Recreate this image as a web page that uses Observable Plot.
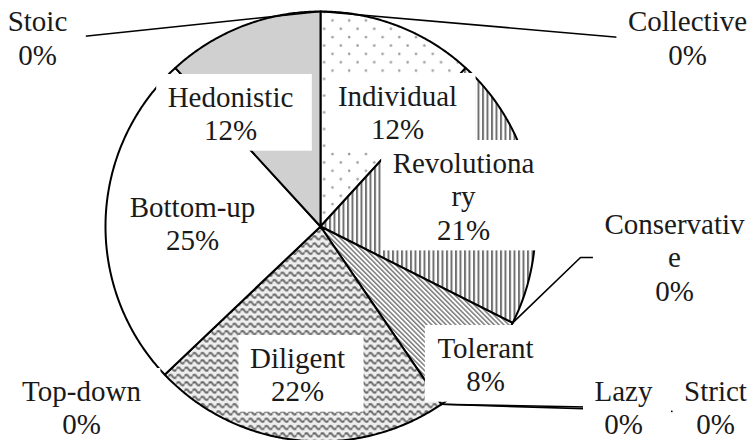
<!DOCTYPE html>
<html><head><meta charset="utf-8">
<script src="https://cdn.jsdelivr.net/npm/d3@7"></script>
<script src="https://cdn.jsdelivr.net/npm/@observablehq/plot@0.6"></script>
<style>
html,body{margin:0;padding:0;background:#fff;font-family:"Liberation Serif","Times New Roman",Times,serif;}
#chart svg, #chart text, #chart tspan{font-family:"Liberation Serif","Times New Roman",Times,serif !important;}
</style>
</head><body>
<div id="chart"></div>
<svg width="0" height="0" style="position:absolute;left:0;top:0">
<defs>
  <pattern id="pDots" patternUnits="userSpaceOnUse" width="16.7" height="16.7" x="322" y="14">
    <rect width="16.7" height="16.7" fill="#fff"/>
    <circle cx="10" cy="6" r="1.3" fill="#9c9c9c"/>
    <circle cx="1.65" cy="14.35" r="1.3" fill="#9c9c9c"/>
  </pattern>
  <pattern id="pVert" patternUnits="userSpaceOnUse" width="4.5" height="10">
    <rect width="4.5" height="10" fill="#fff"/>
    <rect x="0" width="2" height="10" fill="#707070"/>
  </pattern>
  <pattern id="pDiag" patternUnits="userSpaceOnUse" width="3.4" height="10" patternTransform="rotate(-45)">
    <rect width="3.4" height="10" fill="#fff"/>
    <rect x="0" width="1.5" height="10" fill="#7a7a7a"/>
  </pattern>
  <pattern id="pWave" patternUnits="userSpaceOnUse" width="8" height="7.3">
    <rect width="8" height="7.3" fill="#eeeeee"/>
    <path d="M0 3.65 Q2 0.4 4 3.65 T8 3.65" fill="none" stroke="#6a6a6a" stroke-width="2.1"/>
  </pattern>
</defs>
</svg>
<script>
// ---- data ----
const categories = ["Collective","Individual","Revolutionary","Conservative","Tolerant","Strict","Lazy","Diligent","Top-down","Bottom-up","Hedonistic","Stoic"];
const values = [0, 11.8, 20.6, 0, 8.1, 0, 0, 22.4, 0, 25.3, 11.8, 0];
const labelNames = ["Collective","Individual","Revolutiona\nry","Conservativ\ne","Tolerant","Strict","Lazy","Diligent","Top-down","Bottom-up","Hedonistic","Stoic"];

// ---- styles ----
const sliceFills = ["#fff","url(#pDots)","url(#pVert)","#fff","url(#pDiag)","#fff","#fff","url(#pWave)","#fff","#fff","#d0d0d0","#fff"];
const FONT = "Liberation Serif, Times New Roman, Times, serif";

// ---- layout (pixels) ----
const W = 751, H = 440, CX = 320, CY = 226, R = 215;
const FS = 29, LH = 1.162;
const labelX = [687, 397, 463, 674, 485, 715, 623, 297, 81, 192, 230, 37];
const labelBaseline = [30.5, 105, 172, 233, 357, 400, 400, 367, 400, 216, 106, 30.5];
const leaderEnds = {
  "Collective": [[620, 37]],
  "Stoic": [[82, 36]],
  "Conservative": [[580, 257], [593, 257]],
  "Lazy": [[587, 406.5]],
  "Strict": [[675, 411]]
};
// Times-style advance widths (per em) used to size the label boxes
const adv = {C:.667,I:.333,R:.667,T:.611,D:.722,B:.667,H:.722,L:.611,S:.556,
  a:.444,b:.5,c:.444,d:.5,e:.444,g:.5,i:.278,l:.278,m:.778,n:.5,o:.5,p:.5,r:.333,s:.389,t:.278,u:.5,v:.5,w:.722,y:.5,z:.444,
  "0":.5,"1":.5,"2":.5,"3":.5,"4":.5,"5":.5,"6":.5,"7":.5,"8":.5,"9":.5,"%":.833,"-":.333};
const textWidth = s => d3.sum([...s], ch => adv[ch] ?? 0.5) * FS;

// unit coordinates <-> pixels
const ux = px => (px - CX) / R;
const uy = py => (CY - py) / R;

// slices
const total = d3.sum(values);
let cum = 0;
const slices = categories.map((c, i) => {
  const a0 = cum / total * 2 * Math.PI;
  cum += values[i];
  const a1 = cum / total * 2 * Math.PI;
  return {cat: c, value: values[i], a0, a1, fill: sliceFills[i]};
});

const polyPts = [];
for (const s of slices) {
  if (s.value <= 0) continue;
  polyPts.push({cat: s.cat, fill: s.fill, x: 0, y: 0});
  const n = Math.max(2, Math.ceil((s.a1 - s.a0) / (Math.PI / 360)));
  for (let k = 0; k <= n; k++) {
    const a = s.a0 + (s.a1 - s.a0) * k / n;
    polyPts.push({cat: s.cat, fill: s.fill, x: Math.sin(a), y: Math.cos(a)});
  }
}

// leader lines from slice edge to label
const leaderPts = [];
for (const s of slices) {
  const ends = leaderEnds[s.cat];
  if (!ends) continue;
  leaderPts.push({cat: s.cat, x: Math.sin(s.a0), y: Math.cos(s.a0)});
  for (const [px, py] of ends) leaderPts.push({cat: s.cat, x: ux(px), y: uy(py)});
}

// labels and their white boxes
const labels = categories.map((c, i) => {
  const lines = (labelNames[i] + "\n" + Math.round(values[i]) + "%").split("\n");
  const w = d3.max(lines, textWidth);
  const b1 = labelBaseline[i], bN = b1 + (lines.length - 1) * LH * FS;
  return {
    cat: c,
    text: lines.join("\n"),
    x: ux(labelX[i]),
    y: uy(b1 - 0.71 * LH * FS),
    bx1: ux(labelX[i] - w / 2 - 11), bx2: ux(labelX[i] + w / 2 + 19),
    by1: uy(b1 - 32), by2: uy(bN + 11)
  };
});

const plot = Plot.plot({
  width: W, height: H,
  margin: 0,
  x: {domain: [-1, 1], range: [CX - R, CX + R], axis: null},
  y: {domain: [-1, 1], range: [CY + R, CY - R], axis: null},
  color: {type: "identity"},
  style: {fontFamily: FONT, background: "#fff"},
  marks: [
    Plot.line(polyPts, {x: "x", y: "y", z: "cat", fill: "fill", stroke: "#000", strokeWidth: 2, curve: "linear-closed", strokeLinejoin: "round"}),
    Plot.line(leaderPts, {x: "x", y: "y", z: "cat", stroke: "#000", strokeWidth: 1.6}),
    Plot.rect(labels, {x1: "bx1", x2: "bx2", y1: "by1", y2: "by2", fill: "#fff"}),
    Plot.text(labels, {x: "x", y: "y", text: "text", fontSize: FS, fontFamily: FONT, lineHeight: LH, lineAnchor: "top", textAnchor: "middle", fill: "#1a1a1a"})
  ]
});

plot.setAttribute("font-family", FONT);
for (const el of plot.querySelectorAll("text, tspan")) {
  el.setAttribute("font-family", FONT);
  el.style.setProperty("font-family", FONT, "important");
}
document.getElementById("chart").appendChild(plot);
</script>
</body></html>
